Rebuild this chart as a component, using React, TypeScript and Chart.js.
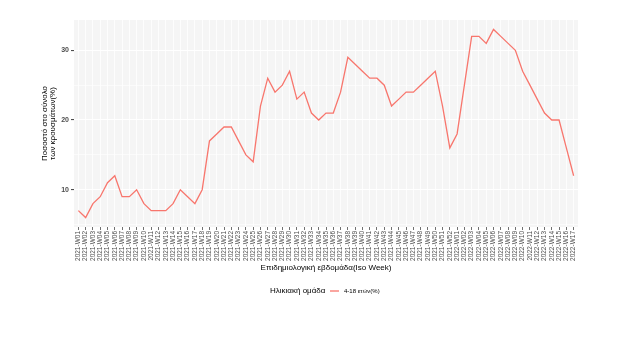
import React, { useEffect, useRef } from "react";
import { Chart, registerables } from "chart.js";

Chart.register(...registerables);

const weekLabels: string[] = [
  "2021-W01", "2021-W02", "2021-W03", "2021-W04", "2021-W05", "2021-W06", "2021-W07", "2021-W08", "2021-W09", "2021-W10",
  "2021-W11", "2021-W12", "2021-W13", "2021-W14", "2021-W15", "2021-W16", "2021-W17", "2021-W18", "2021-W19", "2021-W20",
  "2021-W21", "2021-W22", "2021-W23", "2021-W24", "2021-W25", "2021-W26", "2021-W27", "2021-W28", "2021-W29", "2021-W30",
  "2021-W31", "2021-W32", "2021-W33", "2021-W34", "2021-W35", "2021-W36", "2021-W37", "2021-W38", "2021-W39", "2021-W40",
  "2021-W41", "2021-W42", "2021-W43", "2021-W44", "2021-W45", "2021-W46", "2021-W47", "2021-W48", "2021-W49", "2021-W50",
  "2021-W51", "2021-W52",
  "2022-W01", "2022-W02", "2022-W03", "2022-W04", "2022-W05", "2022-W06", "2022-W07", "2022-W08", "2022-W09", "2022-W10",
  "2022-W11", "2022-W12", "2022-W13", "2022-W14", "2022-W15", "2022-W16", "2022-W17",
];

const values2021: number[] = [
  7, 6, 8, 9, 11, 12, 9, 9, 10, 8,
  7, 7, 7, 8, 10, 9, 8, 10, 17, 18,
  19, 19, 17, 15, 14, 22, 26, 24, 25, 27,
  23, 24, 21, 20, 21, 21, 24, 29, 28, 27,
  26, 26, 25, 22, 23, 24, 24, 25, 26, 27,
  22, 16,
];

const values2022: number[] = [18, 25, 32, 32, 31, 33, 32, 31, 30, 27, 25, 23, 21, 20, 20, 16, 12];

const yTicks: number[] = [5, 10, 15, 20, 25, 30];
const seriesName = "4-18 ετών(%)";
const legendTitle = "Ηλικιακή ομάδα";
const xTitle = "Επιδημιολογική εβδομάδα(Iso Week)";
const yTitleLines = ["Ποσοστό στο σύνολο", "των κρουσμάτων(%)"];

const LINE_COLOR = "#F8766D";
const FONT = "'Liberation Sans', Arial, sans-serif";

export default function App() {
  const canvasRef = useRef<HTMLCanvasElement | null>(null);

  useEffect(() => {
    const canvas = canvasRef.current;
    if (!canvas) return;
    const allValues = [...values2021, ...values2022];
    const points = allValues.map((v, i) => ({ x: i, y: v }));
    const vMin = Math.min(...allValues);
    const vMax = Math.max(...allValues);
    const pad = (vMax - vMin) * 0.05;

    const panelPlugin = {
      id: "panelBg",
      beforeDraw(chart: any) {
        const { ctx, chartArea: a } = chart;
        ctx.save();
        ctx.fillStyle = "#F5F5F5";
        ctx.fillRect(a.left, a.top, a.right - a.left, a.bottom - a.top);
        ctx.restore();
      },
      afterDraw(chart: any) {
        const { ctx, chartArea: a } = chart;
        ctx.save();
        ctx.fillStyle = "#000";
        // x title
        ctx.font = `8px ${FONT}`;
        ctx.textAlign = "center";
        ctx.textBaseline = "middle";
        ctx.fillText(xTitle, (a.left + a.right) / 2, 268);
        // y title
        ctx.save();
        ctx.translate(49, (a.top + a.bottom) / 2);
        ctx.rotate(-Math.PI / 2);
        ctx.fillText(yTitleLines[0], 0, -4.2);
        ctx.fillText(yTitleLines[1], 0, 4.2);
        ctx.restore();
        // legend
        ctx.textAlign = "left";
        ctx.font = `8px ${FONT}`;
        ctx.fillText(legendTitle, 270, 291);
        ctx.strokeStyle = LINE_COLOR;
        ctx.lineWidth = 1.3;
        ctx.beginPath();
        ctx.moveTo(330, 291);
        ctx.lineTo(339, 291);
        ctx.stroke();
        ctx.font = `6px ${FONT}`;
        ctx.fillText(seriesName, 344, 291);
        ctx.restore();
      },
    };

    const chart = new Chart(canvas, {
      type: "line",
      data: {
        datasets: [
          {
            label: seriesName,
            data: points,
            borderColor: LINE_COLOR,
            backgroundColor: LINE_COLOR,
            borderWidth: 1.3,
            pointRadius: 0,
            tension: 0,
          },
        ],
      },
      options: {
        responsive: false,
        animation: false,
        devicePixelRatio: 1,
        layout: { padding: { left: 0, right: 59, top: 20, bottom: 0 } },
        plugins: { legend: { display: false }, tooltip: { enabled: false }, title: { display: false } },
        scales: {
          x: {
            type: "linear",
            min: -0.6,
            max: weekLabels.length - 1 + 0.6,
            afterBuildTicks: (scale: any) => {
              scale.ticks = weekLabels.map((_, i) => ({ value: i }));
            },
            afterFit: (scale: any) => {
              scale.height = 135;
            },
            ticks: {
              autoSkip: false,
              maxRotation: 90,
              minRotation: 90,
              padding: 1,
              color: "#4D4D4D",
              font: { family: FONT, size: 6.5 },
              callback: (v: any) => weekLabels[Math.round(Number(v))] ?? "",
            },
            grid: {
              color: "#FFFFFF",
              lineWidth: 0.8,
              drawTicks: true,
              tickLength: 3,
              tickColor: "#4D4D4D",
            },
            border: { display: false },
          },
          y: {
            type: "linear",
            min: vMin - pad,
            max: vMax + pad,
            afterBuildTicks: (scale: any) => {
              scale.ticks = yTicks.map((v) => ({ value: v }));
            },
            afterFit: (scale: any) => {
              scale.width = 74;
            },
            ticks: {
              padding: 2,
              color: "#4D4D4D",
              font: { family: FONT, size: 7, weight: "bold" },
              callback: (v: any) => (Number(v) % 10 === 0 ? String(v) : ""),
            },
            grid: {
              color: "#FFFFFF",
              lineWidth: (c: any) => (c.tick && c.tick.value % 10 === 0 ? 1.1 : 0.6),
              drawTicks: true,
              tickLength: 3,
              tickColor: (c: any) => (c.tick && c.tick.value % 10 === 0 ? "#4D4D4D" : "rgba(0,0,0,0)"),
            },
            border: { display: false },
          },
        },
      },
      plugins: [panelPlugin],
    } as any);

    return () => chart.destroy();
  }, []);

  return (
    <div style={{ position: "absolute", left: 0, top: 0, width: 637, height: 362, background: "#fff" }}>
      <canvas ref={canvasRef} width={637} height={362} style={{ width: 637, height: 362 }} />
    </div>
  );
}
